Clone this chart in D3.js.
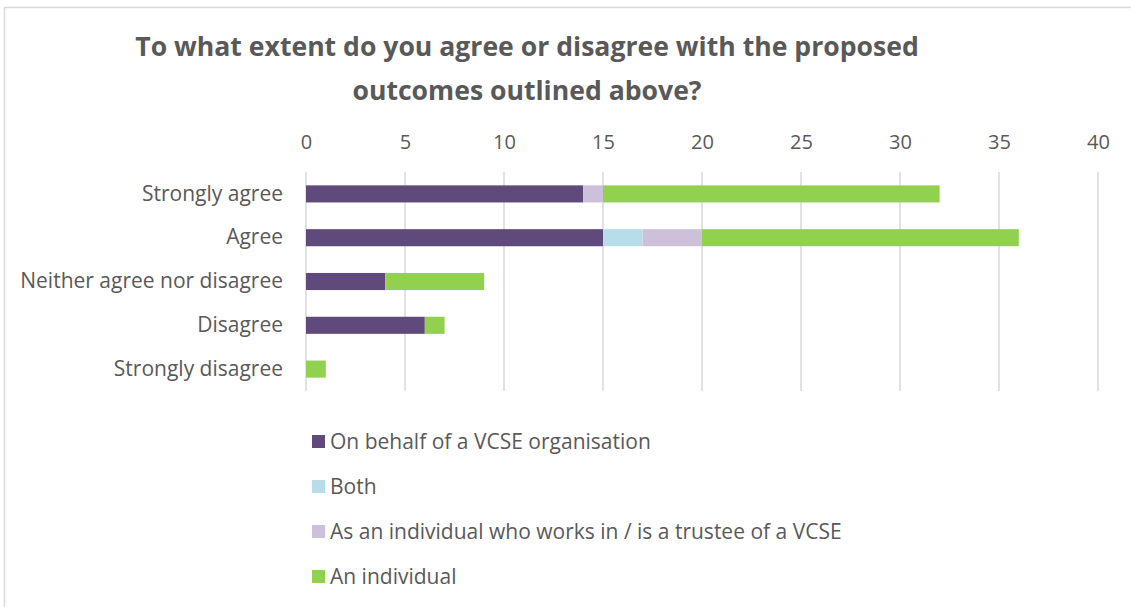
<!DOCTYPE html>
<html>
<head>
<meta charset="utf-8">
<script src="https://cdn.jsdelivr.net/npm/d3@7"></script>
<style>
  html, body { margin: 0; padding: 0; background: #fff; }
  svg { display: block; }
  text { font-family: "Open Sans", "Noto Sans", sans-serif; fill: #595959; }
</style>
</head>
<body>
<svg id="chart" width="1131" height="607"></svg>
<script>
// Response categories (top to bottom)
const categories = ["Strongly agree", "Agree", "Neither agree nor disagree", "Disagree", "Strongly disagree"];

// Respondent groups, stacked left to right
const seriesNames = [
  "On behalf of a VCSE organisation",
  "Both",
  "As an individual who works in / is a trustee of a VCSE",
  "An individual"
];
const seriesColors = ["#604a7b", "#b7dde8", "#ccc0da", "#92d050"];

// Counts per group, aligned with categories
const vcseOrg      = [14, 15, 4, 6, 0];
const both         = [0, 2, 0, 0, 0];
const vcseWorker   = [1, 3, 0, 0, 0];
const individual   = [17, 16, 5, 1, 1];

const tickValues = [0, 5, 10, 15, 20, 25, 30, 35, 40];

const titleLines = ["To what extent do you agree or disagree with the proposed", "outcomes outlined above?"];

const svg = d3.select("#chart");

// Outer frame
svg.append("rect")
  .attr("x", 4.5).attr("y", 7.5)
  .attr("width", 1140).attr("height", 620)
  .attr("fill", "none").attr("stroke", "#d9d9d9").attr("stroke-width", 1.5);

// Title
svg.append("text")
  .attr("x", 527).attr("y", 56)
  .attr("text-anchor", "middle")
  .style("font-size", "26.6px").style("font-weight", "bold")
  .selectAll("tspan").data(titleLines).join("tspan")
  .attr("x", 527).attr("dy", (d, i) => i === 0 ? 0 : 44)
  .text(d => d);

const rows = categories.map((c, i) => ({
  category: c,
  values: [vcseOrg[i], both[i], vcseWorker[i], individual[i]]
}));

const stack = d3.stack()
  .keys([0, 1, 2, 3])
  .value((d, k) => d.values[k]);
const stacked = stack(rows);

const x = d3.scaleLinear().domain([0, 40]).range([306, 1098]);
const y = d3.scaleBand().domain(categories).range([172, 391]).paddingInner(0.61).paddingOuter(0.305);

// Gridlines
svg.append("g")
  .selectAll("line").data(tickValues).join("line")
  .attr("x1", d => x(d)).attr("x2", d => x(d))
  .attr("y1", 172).attr("y2", 391)
  .attr("stroke", "#d9d9d9").attr("stroke-width", 1.5);

// Top axis tick labels
const xAxis = d3.axisTop(x).tickValues(tickValues).tickSize(0).tickPadding(0);
const gx = svg.append("g").attr("transform", "translate(0,149)").call(xAxis);
gx.select(".domain").remove();
gx.selectAll("text")
  .style("font-size", "20px")
  .style("font-family", "\"Open Sans\", sans-serif")
  .attr("fill", "#595959");

// Category axis labels
const yAxis = d3.axisLeft(y).tickSize(0).tickPadding(23);
const gy = svg.append("g").attr("transform", "translate(306,0)").call(yAxis);
gy.select(".domain").remove();
gy.selectAll("text")
  .style("font-size", "21px")
  .style("font-family", "\"Open Sans\", sans-serif")
  .attr("fill", "#595959");

// Stacked bars
svg.append("g")
  .selectAll("g").data(stacked).join("g")
  .attr("fill", (d, i) => seriesColors[i])
  .selectAll("rect").data(d => d).join("rect")
  .attr("x", d => x(d[0]))
  .attr("y", d => y(d.data.category))
  .attr("width", d => x(d[1]) - x(d[0]))
  .attr("height", y.bandwidth());

// Legend
const legend = svg.append("g")
  .selectAll("g").data(seriesNames).join("g")
  .attr("transform", (d, i) => `translate(312,${442 + i * 45})`);
legend.append("rect")
  .attr("x", 0).attr("y", -7).attr("width", 13).attr("height", 13)
  .attr("fill", (d, i) => seriesColors[i]);
legend.append("text")
  .attr("x", 18).attr("y", 0).attr("dy", "0.35em")
  .style("font-size", "21px")
  .text(d => d);
</script>
</body>
</html>
